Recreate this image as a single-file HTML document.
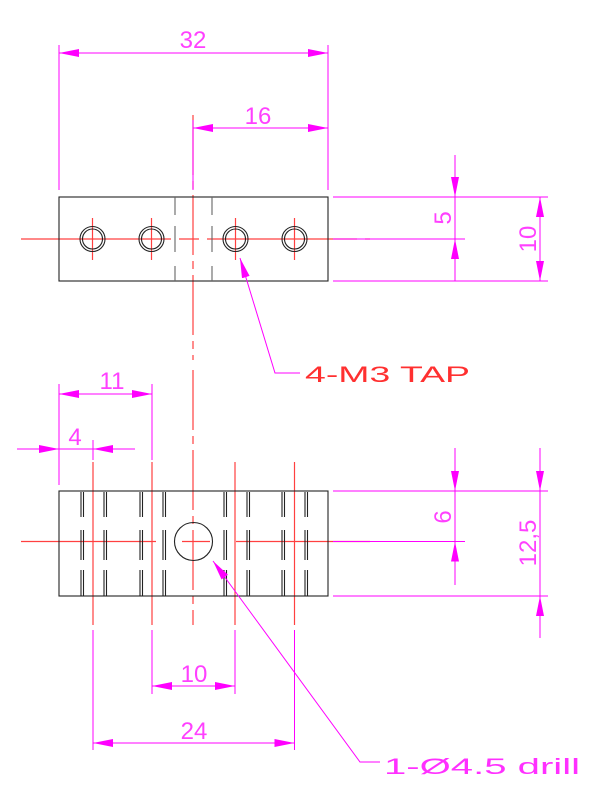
<!DOCTYPE html>
<html><head><style>body{margin:0;background:#fff}svg{display:block}</style></head><body>
<svg width="612" height="792" viewBox="0 0 612 792" xmlns="http://www.w3.org/2000/svg">
<defs>
<marker id="a" viewBox="0 0 10 4" refX="10" refY="2" markerWidth="20" markerHeight="8" markerUnits="userSpaceOnUse" orient="auto-start-reverse"><path d="M0,0L10,2L0,4z" fill="#ff00ff"/></marker>
<path id="hp" d="M0 492v25M0 530v30M0 570v26" stroke="#222" stroke-width="1.1" fill="none"/>
</defs>
<g stroke="#ff4040" stroke-width="1.2" fill="none">
<line x1="193" y1="115" x2="193" y2="360" stroke-dasharray="60,6,8,6"/>
<line x1="193" y1="370" x2="193" y2="625" stroke-dasharray="60,6,8,6"/>
<line x1="21" y1="239" x2="370" y2="239" stroke-dasharray="150,8,20,8"/>
<line x1="92.5" y1="218" x2="92.5" y2="260"/><line x1="151.5" y1="218" x2="151.5" y2="260"/>
<line x1="235.5" y1="218" x2="235.5" y2="260"/><line x1="294.5" y1="218" x2="294.5" y2="260"/>
<line x1="21" y1="541.5" x2="156" y2="541.5"/><line x1="182" y1="541.5" x2="210" y2="541.5"/><line x1="236" y1="541.5" x2="370" y2="541.5"/>
<line x1="93" y1="462" x2="93" y2="625"/>
<line x1="152" y1="462" x2="152" y2="625"/>
<line x1="235" y1="462" x2="235" y2="625"/>
<line x1="294.5" y1="462" x2="294.5" y2="625"/>
</g>
<g stroke="#222" stroke-width="1.1" fill="none">
<rect x="59" y="197" width="269" height="84"/>
<circle cx="92.5" cy="239" r="12.5"/><circle cx="92.5" cy="239" r="10"/>
<circle cx="151.5" cy="239" r="12.5"/><circle cx="151.5" cy="239" r="10"/>
<circle cx="235.5" cy="239" r="12.5"/><circle cx="235.5" cy="239" r="10"/>
<circle cx="294.5" cy="239" r="12.5"/><circle cx="294.5" cy="239" r="10"/>
<g stroke="#666"><path d="M175 197v18M175 226v26M175 266v15M212 197v18M212 226v26M212 266v15"/></g>
<rect x="59" y="491" width="269" height="105"/>
<circle cx="193.5" cy="541.5" r="19"/>
</g>
<use href="#hp" x="81"/><use href="#hp" x="83.5"/><use href="#hp" x="104"/><use href="#hp" x="106.5"/>
<use href="#hp" x="140"/><use href="#hp" x="142.5"/><use href="#hp" x="163"/><use href="#hp" x="165.5"/>
<use href="#hp" x="224"/><use href="#hp" x="226.5"/><use href="#hp" x="247"/><use href="#hp" x="249.5"/>
<use href="#hp" x="282"/><use href="#hp" x="284.5"/><use href="#hp" x="305"/><use href="#hp" x="307.5"/>
<g stroke="#ff00ff" stroke-width="1" fill="none">
<path d="M59 45V190M328 45V190M193 120V190M333 197H548M333 239H465M333 281H548M59 384V485M152 384V460M93 440V460M333 491H548M333 541.5H465M333 596H548M152 630V694M235 630V694M93 630V750M294.5 630V750"/>
<line x1="59" y1="53" x2="328" y2="53" marker-start="url(#a)" marker-end="url(#a)"/>
<line x1="193" y1="128" x2="328" y2="128" marker-start="url(#a)" marker-end="url(#a)"/>
<line x1="455" y1="155" x2="455" y2="197" marker-end="url(#a)"/>
<line x1="455" y1="281" x2="455" y2="239" marker-end="url(#a)"/>
<line x1="455" y1="197" x2="455" y2="239"/>
<line x1="540" y1="197" x2="540" y2="281" marker-start="url(#a)" marker-end="url(#a)"/>
<line x1="59" y1="394" x2="152" y2="394" marker-start="url(#a)" marker-end="url(#a)"/>
<line x1="17" y1="449" x2="59" y2="449" marker-end="url(#a)"/>
<line x1="135" y1="449" x2="93" y2="449" marker-end="url(#a)"/>
<line x1="59" y1="449" x2="93" y2="449"/>
<line x1="455" y1="448" x2="455" y2="491" marker-end="url(#a)"/>
<line x1="455" y1="585" x2="455" y2="541.5" marker-end="url(#a)"/>
<line x1="455" y1="491" x2="455" y2="541.5"/>
<line x1="540" y1="448" x2="540" y2="491" marker-end="url(#a)"/>
<line x1="540" y1="638" x2="540" y2="596" marker-end="url(#a)"/>
<line x1="540" y1="491" x2="540" y2="596"/>
<line x1="152" y1="686" x2="235" y2="686" marker-start="url(#a)" marker-end="url(#a)"/>
<line x1="93" y1="743" x2="294.5" y2="743" marker-start="url(#a)" marker-end="url(#a)"/>
<polyline points="300,373 275,373 240,258" marker-end="url(#a)"/>
<polyline points="380,762 360,762 213,561" marker-end="url(#a)"/>
</g>
<g fill="#ff40ff" font-family="Liberation Sans, sans-serif" font-size="24" font-weight="300" text-anchor="middle">
<text x="193" y="48">32</text>
<text x="258" y="124">16</text>
<text x="112" y="389">11</text>
<text x="75" y="445">4</text>
<text x="194" y="682">10</text>
<text x="194" y="739">24</text>
<text transform="translate(451,218) rotate(-90)">5</text>
<text transform="translate(536,239) rotate(-90)">10</text>
<text transform="translate(451,517) rotate(-90)">6</text>
<text transform="translate(536,543) rotate(-90)">12,5</text>
</g>
<text x="305" y="382" fill="#ff3030" font-family="Liberation Sans, sans-serif" font-size="22" font-weight="300" textLength="165" lengthAdjust="spacingAndGlyphs">4-M3 TAP</text>
<text x="384" y="774" fill="#ff30ff" font-family="Liberation Sans, sans-serif" font-size="22" font-weight="300" textLength="196" lengthAdjust="spacingAndGlyphs">1-Ø4.5 drill</text>
</svg>
</body></html>
